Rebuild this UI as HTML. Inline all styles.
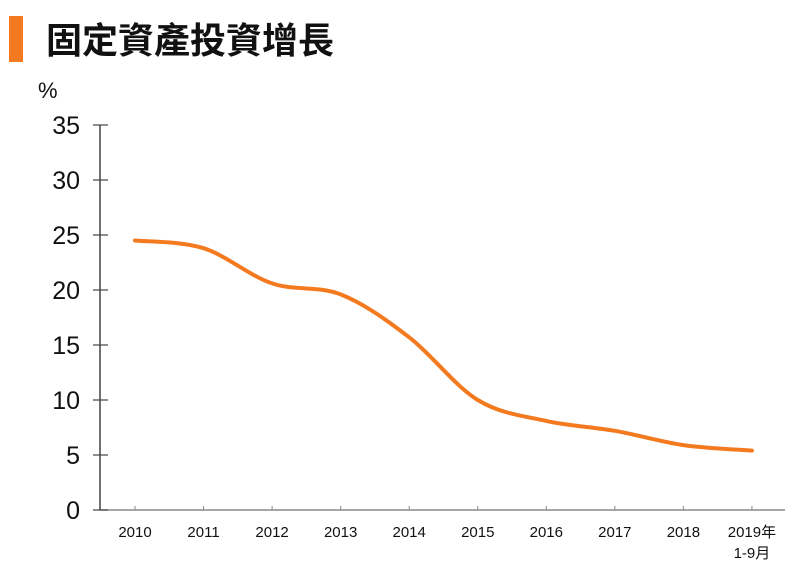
<!DOCTYPE html>
<html><head><meta charset="utf-8"><style>
body{margin:0;background:#fff;width:800px;height:575px;overflow:hidden;font-family:"Liberation Sans","Noto Sans CJK TC",sans-serif}
</style></head><body>
<svg width="800" height="575" xmlns="http://www.w3.org/2000/svg">
<rect x="9" y="16" width="14" height="46" fill="#f47a20"/>
<text x="46" y="53" font-size="36" font-weight="bold" fill="#111" font-family="'Noto Sans CJK TC',sans-serif">固定資產投資增長</text>
<text x="38" y="98" font-size="22" fill="#111">%</text>
<g id="axes"></g>
<path id="line" fill="none" stroke="#f47a20" stroke-width="4" stroke-linecap="round"/>
</svg>
<script>
const categories=["2010","2011","2012","2013","2014","2015","2016","2017","2018","2019"];
const values=[24.5,23.8,20.6,19.6,15.7,10.0,8.1,7.2,5.9,5.4];
const yTicks=[0,5,10,15,20,25,30,35];
const ns="http://www.w3.org/2000/svg";
const X0=135,DX=68.55,Y0=510,PY=11;
const x=i=>X0+i*DX, y=v=>Y0-v*PY;
const g=document.getElementById('axes');
function mk(t,a,txt){const e=document.createElementNS(ns,t);for(const k in a)e.setAttribute(k,a[k]);if(txt!==undefined)e.textContent=txt;g.appendChild(e);return e;}
let e=mk('line',{x1:100,y1:y(35),x2:100,y2:Y0,stroke:'#444','stroke-width':1.5});


e=mk('line',{x1:100,y1:Y0,x2:785,y2:Y0,stroke:'#888','stroke-width':1.5});


yTicks.forEach(v=>{
 let t=mk('line',{x1:93,y1:y(v),x2:108,y2:y(v),stroke:'#444','stroke-width':1.2});
 
 
 let l=mk('text',{x:80,y:y(v)+9,'font-size':25,'text-anchor':'end',fill:'#111'},String(v));
 
 
});
categories.forEach((c,i)=>{
 let t=mk('line',{x1:x(i),y1:Y0,x2:x(i),y2:Y0-4,stroke:'#888','stroke-width':1});
 
 
 let l=mk('text',{x:x(i),y:537,'font-size':15,'text-anchor':'middle',fill:'#111'},c+(i==categories.length-1?'年':''));
 
 
});
e=mk('text',{x:x(9),y:558,'font-size':15,'text-anchor':'middle',fill:'#111'},'1-9月');


const p=values.map((v,i)=>[x(i),y(v)]);
let d='M'+p[0][0]+','+p[0][1];
for(let i=0;i<p.length-1;i++){
 const p0=p[i-1]||p[i],p1=p[i],p2=p[i+1],p3=p[i+2]||p2,k=6;
 d+=` C${p1[0]+(p2[0]-p0[0])/k},${p1[1]+(p2[1]-p0[1])/k} ${p2[0]-(p3[0]-p1[0])/k},${p2[1]-(p3[1]-p1[1])/k} ${p2[0]},${p2[1]}`;
}
document.getElementById('line').setAttribute('d',d);
</script>
</body></html>
